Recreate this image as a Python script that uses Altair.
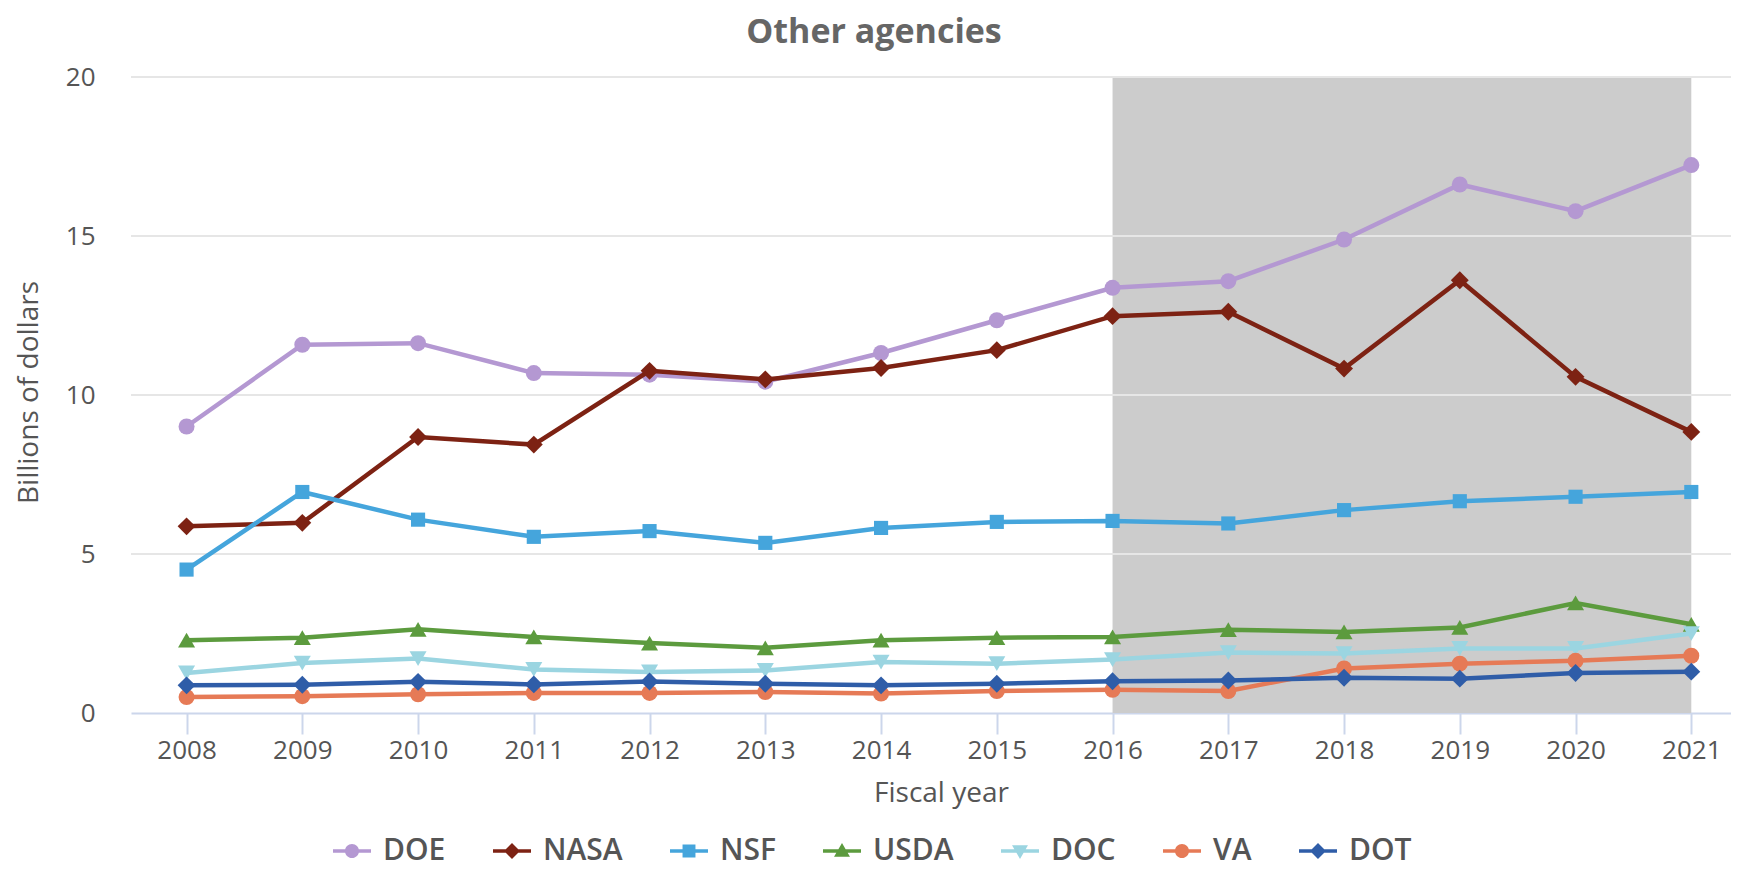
import altair as alt
import pandas as pd

# ---------------- data ----------------
years = list(range(2008, 2022))
agencies = ["DOE", "NASA", "NSF", "USDA", "DOC", "VA", "DOT"]

doe = [9.01, 11.58, 11.63, 10.69, 10.64, 10.42, 11.32, 12.35, 13.37, 13.58, 14.89, 16.62, 15.78, 17.23]
nasa = [5.87, 5.98, 8.68, 8.44, 10.76, 10.49, 10.85, 11.41, 12.48, 12.62, 10.83, 13.61, 10.57, 8.84]
nsf = [4.51, 6.95, 6.08, 5.54, 5.72, 5.35, 5.82, 6.01, 6.04, 5.96, 6.38, 6.66, 6.80, 6.95]
usda = [2.29, 2.37, 2.63, 2.39, 2.20, 2.05, 2.29, 2.37, 2.39, 2.62, 2.55, 2.69, 3.46, 2.79]
doc = [1.26, 1.57, 1.71, 1.37, 1.29, 1.34, 1.60, 1.55, 1.68, 1.90, 1.87, 2.03, 2.03, 2.50]
va = [0.50, 0.53, 0.59, 0.63, 0.63, 0.66, 0.61, 0.69, 0.73, 0.69, 1.40, 1.55, 1.64, 1.80]
dot = [0.87, 0.89, 0.98, 0.90, 0.99, 0.92, 0.87, 0.92, 1.00, 1.02, 1.11, 1.08, 1.26, 1.30]

band_start = [2016]
band_end = [2021]

y_ticks = [0, 5, 10, 15, 20]

colors = ["#b498d2", "#7d2213", "#45a5dc", "#5c9b3e", "#9bd5e1", "#e67a56", "#2f5da8"]
markers = ["circle", "diamond", "square", "triangle-up", "triangle-down", "circle", "diamond"]
marker_sizes = [256, 320, 200, 290, 290, 256, 320]

# legend symbols: line segment + marker (unit box -1..1)
seg = "M-1,-0.09H1V0.09H-1Z"
marker_paths = {
    "circle": "M0.37,0A0.37,0.37 0 1,1 -0.37,0A0.37,0.37 0 1,1 0.37,0Z",
    "diamond": "M0,-0.42L0.42,0L0,0.42L-0.42,0Z",
    "square": "M-0.34,-0.34H0.34V0.34H-0.34Z",
    "triangle-up": "M0,-0.42L0.42,0.3L-0.42,0.3Z",
    "triangle-down": "M-0.42,-0.3L0.42,-0.3L0,0.42Z",
}
legend_paths = [seg + " " + marker_paths[m] for m in markers]

series = dict(zip(agencies, [doe, nasa, nsf, usda, doc, va, dot]))
rows = []
for a in agencies:
    for yr, v in zip(years, series[a]):
        rows.append({"year": yr, "value": v, "agency": a})
df = pd.DataFrame(rows)

band_df = pd.DataFrame({"year": band_start, "year_end": band_end})
grid_df = pd.DataFrame({"value": y_ticks[1:]})

# ---------------- layout ----------------
W, H = 1600, 636
TXT = "#555555"

xscale = alt.Scale(domain=[2007.52, 2021.343], nice=False, zero=False)
yscale = alt.Scale(domain=[0, 20], nice=False)

xaxis = alt.Axis(
    values=years, format="d", grid=False,
    domainColor="#ccd6eb", domainWidth=2,
    tickColor="#ccd6eb", tickWidth=2, tickSize=21,
    labelFontSize=26, labelColor=TXT, labelPadding=3,
    labelFlush=False, labelOverlap=False,
    title="Fiscal year", titleFontSize=28, titleFontWeight="normal",
    titleColor=TXT, titleX=810, titleY=80, titleAlign="center",
    titleBaseline="middle",
)
yaxis = alt.Axis(
    values=y_ticks, grid=False, domain=False, ticks=False,
    labelFontSize=26, labelColor=TXT, labelPadding=36,
    title="Billions of dollars", titleFontSize=28, titleFontWeight="normal",
    titleColor=TXT, titleX=-102, titleY=H / 2 - 3, titleAngle=270,
    titleAlign="center", titleBaseline="middle",
)

X = alt.X("year:Q", scale=xscale, axis=xaxis)
Y = alt.Y("value:Q", scale=yscale, axis=yaxis)

band = alt.Chart(band_df).mark_rect(color="#cccccc").encode(
    x=X, x2="year_end:Q"
)

grid = alt.Chart(grid_df).mark_rule(color="#e6e6e6", strokeWidth=2).encode(y=Y)

legend = alt.Legend(
    title=None, orient="none", legendX=202, legendY=755,
    direction="horizontal", columns=7,
    symbolSize=1444, symbolStrokeWidth=0, symbolOpacity=1,
    labelFontSize=30, labelFontWeight=600, labelColor=TXT, labelFont="Open Sans",
    labelOffset=12, columnPadding=47, padding=0,
)

legend_layer = alt.Chart(df).mark_point(filled=True, opacity=0).encode(
    x=X, y=Y,
    color=alt.Color("agency:N", scale=alt.Scale(domain=agencies, range=colors), legend=legend),
    shape=alt.Shape("agency:N", scale=alt.Scale(domain=agencies, range=legend_paths), legend=legend),
)

series_layers = []
for a, c, m, s in zip(agencies, colors, markers, marker_sizes):
    base = alt.Chart(df).transform_filter(alt.datum.agency == a)
    series_layers.append(base.mark_line(color=c, strokeWidth=4.5).encode(x=X, y=Y))
    series_layers.append(
        base.mark_point(shape=m, filled=True, size=s, color=c, opacity=1).encode(x=X, y=Y)
    )

chart = alt.layer(band, grid, legend_layer, *series_layers).properties(
    width=W, height=H,
    padding={"left": 123, "top": 69, "right": 0, "bottom": 157},
    autosize=alt.AutoSizeParams(type="none"),
    title=alt.TitleParams(
        "Other agencies", fontSize=34, fontWeight="bold", color="#666666",
        font="Open Sans", anchor="middle", frame="group", dx=-57, offset=14,
    ),
).configure(font="Open Sans").configure_view(stroke=None)

chart.save("out.html", embed_options={"renderer": "svg", "actions": False})
